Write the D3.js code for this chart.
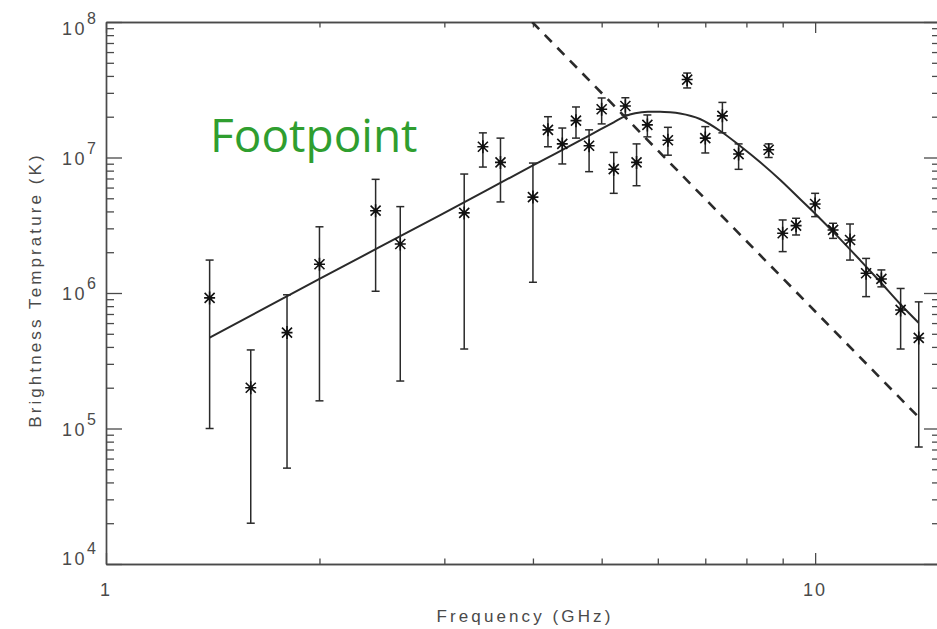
<!DOCTYPE html>
<html>
<head>
<meta charset="utf-8">
<script src="https://cdn.jsdelivr.net/npm/d3@7"></script>
<style>
  html, body { margin: 0; padding: 0; background: #fff; }
  svg { display: block; }
</style>
</head>
<body>
<svg id="chart" width="937" height="629"></svg>
<script>
// ---------------- DATA ----------------
const freqGHz = [1.4, 1.6, 1.8, 2.0, 2.4, 2.6, 3.2, 3.4, 3.6, 4.0, 4.2, 4.4, 4.6, 4.8, 5.0, 5.2, 5.4, 5.6, 5.8,
                 6.2, 6.6, 7.0, 7.4, 7.8, 8.6, 9.0, 9.4, 10.0, 10.6, 11.2, 11.8, 12.4, 13.2, 14.0];
const tempK = [9.2e5, 2.0e5, 5.1e5, 1.63e6, 4.05e6, 2.3e6, 3.9e6, 1.2e7, 9.2e6, 5.1e6, 1.6e7, 1.26e7, 1.87e7,
               1.22e7, 2.27e7, 8.2e6, 2.4e7, 9.2e6, 1.74e7, 1.34e7, 3.76e7, 1.39e7, 2.03e7, 1.06e7, 1.14e7,
               2.76e6, 3.14e6, 4.54e6, 2.92e6, 2.46e6, 1.40e6, 1.27e6, 7.5e5, 4.66e5];
const errLowK = [1.0e5, 2.0e4, 5.1e4, 1.6e5, 1.03e6, 2.24e5, 3.86e5, 8.5e6, 4.7e6, 1.2e6, 1.2e7, 8.96e6, 1.39e7,
                 7.86e6, 1.77e7, 5.44e6, 2.06e7, 6.19e6, 1.42e7, 1.04e7, 3.26e7, 1.08e7, 1.52e7, 8.18e6, 1.0e7,
                 2.02e6, 2.68e6, 3.66e6, 2.53e6, 1.75e6, 9.4e5, 1.11e6, 3.86e5, 7.3e4];
const errHighK = [1.75e6, 3.8e5, 9.7e5, 3.08e6, 6.9e6, 4.34e6, 7.55e6, 1.52e7, 1.39e7, 9.1e6, 2.0e7, 1.65e7, 2.36e7,
                  1.6e7, 2.75e7, 1.09e7, 2.76e7, 1.26e7, 2.06e7, 1.67e7, 4.2e7, 1.69e7, 2.55e7, 1.26e7, 1.26e7,
                  3.46e6, 3.56e6, 5.44e6, 3.27e6, 3.23e6, 1.80e6, 1.48e6, 1.08e6, 8.6e5];

// fitted spectrum (solid line)
const fitFreq = [1.40, 2.0, 2.96, 4.0, 4.8, 5.2, 5.40, 5.574, 5.81, 6.046, 6.245, 6.45, 6.88, 7.35, 7.84, 8.36,
                 8.93, 9.52, 10.16, 10.85, 11.57, 12.35, 13.18, 13.99];
const fitTemp = [4.68e5, 1.27e6, 3.76e6, 8.74e6, 1.45e7, 1.82e7, 2.02e7, 2.12e7, 2.175e7, 2.178e7, 2.156e7, 2.112e7,
                 1.924e7, 1.569e7, 1.216e7, 9.26e6, 6.82e6, 4.94e6, 3.55e6, 2.50e6, 1.75e6, 1.21e6, 8.30e5, 6.04e5];

// dashed power-law line
const dashFreq = [3.99, 14.0];
const dashTemp = [1e8, 1.21e5];

// axes
const xDomain = [1, 15];
const yDomain = [1e4, 1e8];
const xMajorTicks = [1, 10];
const xMajorLabels = ["1", "10"];
const xMinorTicks = [2, 3, 4, 5, 6, 7, 8, 9];
const yMajorTicks = [1e4, 1e5, 1e6, 1e7, 1e8];
const yMajorExponents = ["4", "5", "6", "7", "8"];
const yMinorMultipliers = [2, 3, 4, 5, 6, 7, 8, 9];

const titleText = "Footpoint";
const xTitle = "Frequency (GHz)";
const yTitle = "Brightness Temprature (K)";

// ---------------- LAYOUT ----------------
const L = 106, R = 940, T = 22, B = 564;
const ink = "#2a2a2a";
const axisInk = "#4a4a4a";
const font = "'Liberation Sans', Arial, Helvetica, sans-serif";

const svg = d3.select("#chart");
const x = d3.scaleLog().domain(xDomain).range([L, R]);
const y = d3.scaleLog().domain(yDomain).range([B, T]);

const yMinorTicks = [];
for (let i = 0; i < yMajorTicks.length - 1; i++) {
  yMinorMultipliers.forEach(m => yMinorTicks.push(yMajorTicks[i] * m));
}

function styleAxis(g) {
  g.selectAll("path.domain").attr("stroke", axisInk).attr("stroke-width", 1.4);
  g.selectAll(".tick line").attr("stroke", axisInk).attr("stroke-width", 1.3);
  g.selectAll(".tick text").remove();
}

// major and minor ticks, pointing inward on all four sides
const xMajLen = 11, xMinLen = 5.5, yMajLen = 16, yMinLen = 8;

svg.append("g").attr("transform", `translate(0,${B})`)
  .call(d3.axisBottom(x).tickValues(xMajorTicks).tickSizeInner(-xMajLen).tickSizeOuter(0).tickFormat(""))
  .call(styleAxis);
svg.append("g").attr("transform", `translate(0,${B})`)
  .call(d3.axisBottom(x).tickValues(xMinorTicks).tickSizeInner(-xMinLen).tickSizeOuter(0).tickFormat(""))
  .call(styleAxis);
svg.append("g").attr("transform", `translate(0,${T})`)
  .call(d3.axisTop(x).tickValues(xMajorTicks).tickSizeInner(-xMajLen).tickSizeOuter(0).tickFormat(""))
  .call(styleAxis);
svg.append("g").attr("transform", `translate(0,${T})`)
  .call(d3.axisTop(x).tickValues(xMinorTicks).tickSizeInner(-xMinLen).tickSizeOuter(0).tickFormat(""))
  .call(styleAxis);
svg.append("g").attr("transform", `translate(${L},0)`)
  .call(d3.axisLeft(y).tickValues(yMajorTicks).tickSizeInner(-yMajLen).tickSizeOuter(0).tickFormat(""))
  .call(styleAxis);
svg.append("g").attr("transform", `translate(${L},0)`)
  .call(d3.axisLeft(y).tickValues(yMinorTicks).tickSizeInner(-yMinLen).tickSizeOuter(0).tickFormat(""))
  .call(styleAxis);
svg.append("g").attr("transform", `translate(${R},0)`)
  .call(d3.axisRight(y).tickValues(yMajorTicks).tickSizeInner(-yMajLen).tickSizeOuter(0).tickFormat(""))
  .call(styleAxis);
svg.append("g").attr("transform", `translate(${R},0)`)
  .call(d3.axisRight(y).tickValues(yMinorTicks).tickSizeInner(-yMinLen).tickSizeOuter(0).tickFormat(""))
  .call(styleAxis);

// y tick labels 10^n
yMajorTicks.forEach((v, i) => {
  let shift = 7;
  if (i === yMajorTicks.length - 1) shift = 13;
  if (i === 0) shift = 1;
  const t = svg.append("text")
    .attr("x", L - 10)
    .attr("y", y(v) + shift)
    .attr("text-anchor", "end")
    .attr("font-family", font)
    .attr("font-size", 18)
    .attr("fill", axisInk)
    .attr("letter-spacing", 2.5);
  t.append("tspan").text("10");
  t.append("tspan").attr("dy", -11).attr("font-size", 16).attr("letter-spacing", 0).text(yMajorExponents[i]);
});

// x tick labels
xMajorTicks.forEach((v, i) => {
  svg.append("text")
    .attr("x", x(v))
    .attr("y", B + 32)
    .attr("text-anchor", "middle")
    .attr("font-family", font)
    .attr("font-size", 18)
    .attr("fill", axisInk)
    .attr("letter-spacing", 2)
    .text(xMajorLabels[i]);
});

// axis titles
svg.append("text")
  .attr("x", 525)
  .attr("y", 622)
  .attr("text-anchor", "middle")
  .attr("font-family", font)
  .attr("font-size", 17)
  .attr("letter-spacing", 3.1)
  .attr("fill", axisInk)
  .text(xTitle);

svg.append("text")
  .attr("transform", `translate(41,290) rotate(-90)`)
  .attr("text-anchor", "middle")
  .attr("font-family", font)
  .attr("font-size", 17)
  .attr("letter-spacing", 3.1)
  .attr("fill", axisInk)
  .text(yTitle);

// clip for plot area
svg.append("clipPath").attr("id", "plotClip")
  .append("rect").attr("x", L).attr("y", T).attr("width", R - L).attr("height", B - T);

const plot = svg.append("g").attr("clip-path", "url(#plotClip)");

// dashed line
plot.append("path")
  .datum(dashFreq.map((f, i) => [f, dashTemp[i]]))
  .attr("d", d3.line().x(d => x(d[0])).y(d => y(d[1])))
  .attr("fill", "none")
  .attr("stroke", ink)
  .attr("stroke-width", 2.6)
  .attr("stroke-dasharray", "10,8");

// fitted solid curve
plot.append("path")
  .datum(fitFreq.map((f, i) => [f, fitTemp[i]]))
  .attr("d", d3.line().x(d => x(d[0])).y(d => y(d[1])).curve(d3.curveMonotoneX))
  .attr("fill", "none")
  .attr("stroke", ink)
  .attr("stroke-width", 2);

// error bars
const pts = freqGHz.map((f, i) => ({ f, t: tempK[i], lo: errLowK[i], hi: errHighK[i] }));
const eb = plot.append("g").attr("stroke", ink).attr("stroke-width", 1.5).attr("fill", "none");
pts.forEach(p => {
  const px = x(p.f);
  eb.append("line").attr("x1", px).attr("x2", px).attr("y1", y(p.lo)).attr("y2", y(p.hi));
  eb.append("line").attr("x1", px - 4).attr("x2", px + 4).attr("y1", y(p.lo)).attr("y2", y(p.lo));
  eb.append("line").attr("x1", px - 4).attr("x2", px + 4).attr("y1", y(p.hi)).attr("y2", y(p.hi));
});

// asterisk markers
const star = "M0,-6.5L0,6.5M-5.5,0L5.5,0M-5,-5L5,5M-5,5L5,-5";
plot.append("g").selectAll("path")
  .data(pts).join("path")
  .attr("transform", d => `translate(${x(d.f)},${y(d.t)})`)
  .attr("d", star)
  .attr("stroke", "#111")
  .attr("stroke-width", 1.6)
  .attr("fill", "none");
plot.append("g").selectAll("circle")
  .data(pts).join("circle")
  .attr("cx", d => x(d.f)).attr("cy", d => y(d.t)).attr("r", 2.2).attr("fill", "#111");

// title label
svg.append("text")
  .attr("x", 210)
  .attr("y", 152)
  .attr("font-family", "'Open Sans', 'Noto Sans', sans-serif")
  .attr("font-size", 46)
  .attr("fill", "#2f9e2f")
  .text(titleText);
</script>
</body>
</html>
